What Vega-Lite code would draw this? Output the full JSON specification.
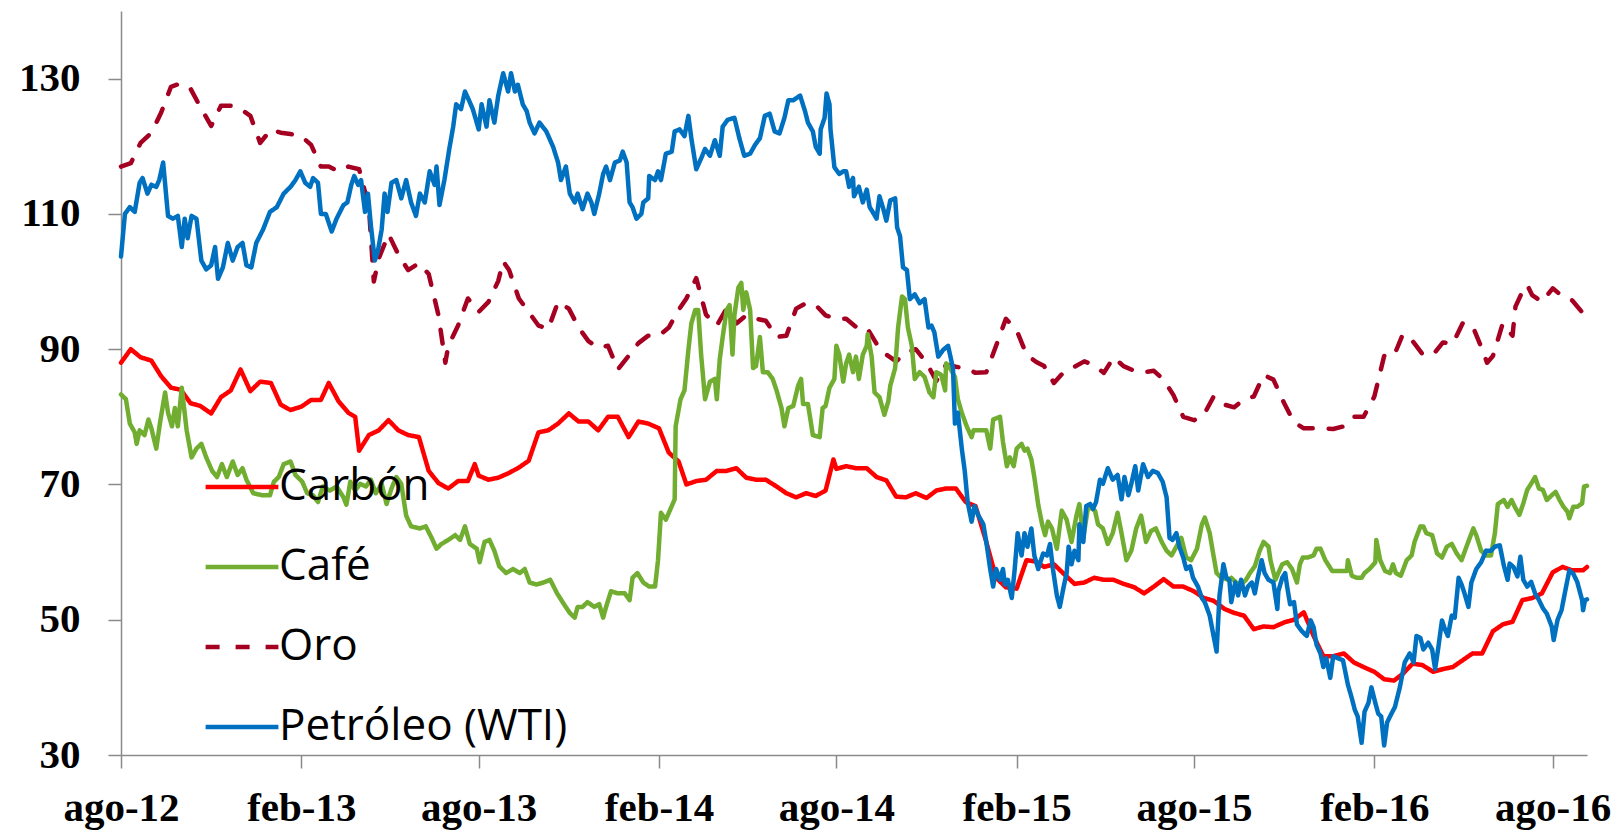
{
"$schema": "https://vega.github.io/schema/vega-lite/v6.json",
"width": 1466, "height": 744,
"autosize": {"type": "none"},
"padding": {"left": 121, "top": 11, "right": 32, "bottom": 79},
"background": "#ffffff",
"config": {
  "view": {"stroke": null},
  "legend": {"orient": "none", "legendX": 82, "legendY": 437, "symbolType": "stroke", "symbolSize": 5300, "symbolStrokeWidth": 4.5, "labelFont": "Open Sans", "labelFontSize": 44, "labelColor": "#000000", "labelOffset": -2, "rowPadding": 19, "padding": 0, "labelLimit": 0, "symbolOffset": 0}
},
"data": {"values": [
{"fecha":"2012-08-01","Carbón":88,"Oro":117},
{"fecha":"2012-08-11","Carbón":90,"Oro":117.5},
{"fecha":"2012-08-21","Carbón":88.8,"Oro":120.5},
{"fecha":"2012-09-01","Carbón":88.3,"Oro":122},
{"fecha":"2012-09-11","Carbón":86,"Oro":125},
{"fecha":"2012-09-21","Carbón":84.3,"Oro":128.8},
{"fecha":"2012-10-01","Carbón":84,"Oro":129.3},
{"fecha":"2012-10-11","Carbón":82,"Oro":128.5},
{"fecha":"2012-10-21","Carbón":81.6,"Oro":125.8},
{"fecha":"2012-11-01","Carbón":80.5,"Oro":123},
{"fecha":"2012-11-11","Carbón":82.9,"Oro":126},
{"fecha":"2012-11-21","Carbón":83.9,"Oro":126},
{"fecha":"2012-12-01","Carbón":87,"Oro":125.5},
{"fecha":"2012-12-11","Carbón":83.8,"Oro":124.5},
{"fecha":"2012-12-21","Carbón":85.2,"Oro":120.5},
{"fecha":"2013-01-01","Carbón":85,"Oro":122.5},
{"fecha":"2013-01-11","Carbón":81.8,"Oro":122},
{"fecha":"2013-01-21","Carbón":81,"Oro":121.8},
{"fecha":"2013-02-01","Carbón":81.5,"Oro":121.5},
{"fecha":"2013-02-11","Carbón":82.5,"Oro":120.2},
{"fecha":"2013-02-21","Carbón":82.5,"Oro":117},
{"fecha":"2013-03-01","Carbón":85,"Oro":117},
{"fecha":"2013-03-11","Carbón":82.3,"Oro":116.3},
{"fecha":"2013-03-21","Carbón":80.6,"Oro":117},
{"fecha":"2013-03-28","Carbón":80},
{"fecha":"2013-04-01","Carbón":75,"Oro":116.6},
{"fecha":"2013-04-11","Carbón":77.3,"Oro":111},
{"fecha":"2013-04-16","Oro":100},
{"fecha":"2013-04-21","Carbón":78,"Oro":103.4},
{"fecha":"2013-05-01","Carbón":79.5,"Oro":107},
{"fecha":"2013-05-11","Carbón":78,"Oro":104},
{"fecha":"2013-05-21","Carbón":77.3,"Oro":101.7},
{"fecha":"2013-06-01","Carbón":77,"Oro":102.7},
{"fecha":"2013-06-11","Carbón":72,"Oro":101.1},
{"fecha":"2013-06-21","Carbón":70.2,"Oro":95},
{"fecha":"2013-06-28","Oro":88},
{"fecha":"2013-07-01","Carbón":69.4,"Oro":90.5},
{"fecha":"2013-07-11","Carbón":70.5,"Oro":93.5},
{"fecha":"2013-07-21","Carbón":70.5,"Oro":97.5},
{"fecha":"2013-07-28","Carbón":73},
{"fecha":"2013-08-01","Carbón":71.3,"Oro":95.5},
{"fecha":"2013-08-11","Carbón":70.7,"Oro":97},
{"fecha":"2013-08-21","Carbón":71,"Oro":100.1},
{"fecha":"2013-08-26","Oro":103},
{"fecha":"2013-09-01","Carbón":71.7,"Oro":101.7},
{"fecha":"2013-09-11","Carbón":72.5,"Oro":97.5},
{"fecha":"2013-09-21","Carbón":73.5,"Oro":95.5},
{"fecha":"2013-10-01","Carbón":77.7,"Oro":93.5},
{"fecha":"2013-10-11","Carbón":78,"Oro":93},
{"fecha":"2013-10-21","Carbón":79,"Oro":97},
{"fecha":"2013-11-01","Carbón":80.5,"Oro":96},
{"fecha":"2013-11-11","Carbón":79.3,"Oro":93.2},
{"fecha":"2013-11-21","Carbón":79.3,"Oro":91.2},
{"fecha":"2013-12-01","Carbón":78,"Oro":90.2},
{"fecha":"2013-12-11","Carbón":80,"Oro":90.5},
{"fecha":"2013-12-21","Carbón":80,"Oro":87},
{"fecha":"2014-01-01","Carbón":77,"Oro":89},
{"fecha":"2014-01-11","Carbón":79.3,"Oro":90.9},
{"fecha":"2014-01-21","Carbón":79,"Oro":92},
{"fecha":"2014-02-01","Carbón":78.3,"Oro":92},
{"fecha":"2014-02-11","Carbón":74.7,"Oro":93.2},
{"fecha":"2014-02-21","Carbón":73.4,"Oro":95.8},
{"fecha":"2014-03-01","Carbón":70,"Oro":97.5},
{"fecha":"2014-03-11","Carbón":70.5,"Oro":100.5},
{"fecha":"2014-03-21","Carbón":70.7,"Oro":95.1},
{"fecha":"2014-04-01","Carbón":72,"Oro":93.5},
{"fecha":"2014-04-11","Carbón":72,"Oro":96},
{"fecha":"2014-04-21","Carbón":72.4,"Oro":93.8},
{"fecha":"2014-05-01","Carbón":71,"Oro":95},
{"fecha":"2014-05-11","Carbón":70.7,"Oro":94.5},
{"fecha":"2014-05-21","Carbón":70.7,"Oro":94.2},
{"fecha":"2014-06-01","Carbón":69.7,"Oro":91.8},
{"fecha":"2014-06-11","Carbón":68.7,"Oro":92},
{"fecha":"2014-06-21","Carbón":68.1,"Oro":96},
{"fecha":"2014-07-01","Carbón":68.7,"Oro":96.8},
{"fecha":"2014-07-11","Carbón":68.3,"Oro":96.5},
{"fecha":"2014-07-21","Carbón":69.1,"Oro":95},
{"fecha":"2014-07-29","Carbón":73.7},
{"fecha":"2014-08-01","Carbón":72.3,"Oro":94.5},
{"fecha":"2014-08-11","Carbón":72.7,"Oro":94.5},
{"fecha":"2014-08-21","Carbón":72.4,"Oro":93.3},
{"fecha":"2014-09-01","Carbón":72.4,"Oro":93.2},
{"fecha":"2014-09-11","Carbón":71.1,"Oro":90.8},
{"fecha":"2014-09-21","Carbón":70.6,"Oro":89.2},
{"fecha":"2014-10-01","Carbón":68.2,"Oro":88.2},
{"fecha":"2014-10-11","Carbón":68.1,"Oro":89.5},
{"fecha":"2014-10-21","Carbón":68.7,"Oro":90},
{"fecha":"2014-11-01","Carbón":68,"Oro":88},
{"fecha":"2014-11-11","Carbón":69.1,"Oro":85.3},
{"fecha":"2014-11-21","Carbón":69.4,"Oro":87.7},
{"fecha":"2014-12-01","Carbón":69.4,"Oro":87.4},
{"fecha":"2014-12-11","Carbón":67.4,"Oro":87.2},
{"fecha":"2014-12-21","Carbón":66.8,"Oro":86.5},
{"fecha":"2015-01-01","Carbón":61.5,"Oro":86.6},
{"fecha":"2015-01-11","Carbón":56.2,"Oro":90.5},
{"fecha":"2015-01-21","Carbón":54.8,"Oro":94.5},
{"fecha":"2015-02-01","Carbón":54.6,"Oro":92.8},
{"fecha":"2015-02-11","Carbón":58.8,"Oro":89.2},
{"fecha":"2015-02-21","Carbón":58.6,"Oro":88.1},
{"fecha":"2015-03-01","Carbón":57.8,"Oro":87.5},
{"fecha":"2015-03-11","Carbón":58.2,"Oro":85},
{"fecha":"2015-03-21","Carbón":56.8,"Oro":86.6},
{"fecha":"2015-04-01","Carbón":55.3,"Oro":87.4},
{"fecha":"2015-04-11","Carbón":55.5,"Oro":88.2},
{"fecha":"2015-04-21","Carbón":56.2,"Oro":87.6},
{"fecha":"2015-05-01","Carbón":55.9,"Oro":86.5},
{"fecha":"2015-05-11","Carbón":55.9,"Oro":88.8},
{"fecha":"2015-05-21","Carbón":55.3,"Oro":87.5},
{"fecha":"2015-06-01","Carbón":54.8,"Oro":86.8},
{"fecha":"2015-06-11","Carbón":53.9,"Oro":86.6},
{"fecha":"2015-06-21","Carbón":54.9,"Oro":86.8},
{"fecha":"2015-07-01","Carbón":56,"Oro":85.5},
{"fecha":"2015-07-11","Carbón":54.9,"Oro":83.2},
{"fecha":"2015-07-21","Carbón":54.9,"Oro":80},
{"fecha":"2015-08-01","Carbón":54.2,"Oro":79.5},
{"fecha":"2015-08-11","Carbón":53.2,"Oro":80.3},
{"fecha":"2015-08-21","Carbón":52.8,"Oro":83},
{"fecha":"2015-09-01","Carbón":51.6,"Oro":81.8},
{"fecha":"2015-09-11","Carbón":51,"Oro":81.4},
{"fecha":"2015-09-21","Carbón":50.6,"Oro":82.6},
{"fecha":"2015-10-01","Carbón":48.6,"Oro":83},
{"fecha":"2015-10-11","Carbón":49,"Oro":86.2},
{"fecha":"2015-10-21","Carbón":48.9,"Oro":85.5},
{"fecha":"2015-11-01","Carbón":49.6,"Oro":82},
{"fecha":"2015-11-11","Carbón":50,"Oro":79.2},
{"fecha":"2015-11-21","Carbón":51.1,"Oro":78.3},
{"fecha":"2015-12-01","Carbón":47.6,"Oro":78.3},
{"fecha":"2015-12-11","Carbón":44.6,"Oro":78.3},
{"fecha":"2015-12-21","Carbón":44.6,"Oro":78.2},
{"fecha":"2016-01-01","Carbón":45,"Oro":78.6},
{"fecha":"2016-01-11","Carbón":43.7,"Oro":80},
{"fecha":"2016-01-21","Carbón":43,"Oro":80},
{"fecha":"2016-02-01","Carbón":42.3,"Oro":83},
{"fecha":"2016-02-11","Carbón":41.2,"Oro":89},
{"fecha":"2016-02-21","Carbón":41,"Oro":89},
{"fecha":"2016-03-01","Carbón":42,"Oro":92.2},
{"fecha":"2016-03-11","Carbón":43.5,"Oro":91.2},
{"fecha":"2016-03-21","Carbón":43.3,"Oro":89.3},
{"fecha":"2016-04-01","Carbón":42.3,"Oro":89.2},
{"fecha":"2016-04-11","Carbón":42.7,"Oro":91},
{"fecha":"2016-04-21","Carbón":43,"Oro":90.8},
{"fecha":"2016-05-01","Carbón":44,"Oro":93.8},
{"fecha":"2016-05-11","Carbón":45,"Oro":93.5},
{"fecha":"2016-05-21","Carbón":45,"Oro":90},
{"fecha":"2016-05-26","Oro":88},
{"fecha":"2016-06-01","Carbón":48.3,"Oro":89},
{"fecha":"2016-06-11","Carbón":49.3,"Oro":93.8},
{"fecha":"2016-06-21","Carbón":49.7,"Oro":92},
{"fecha":"2016-06-24","Oro":96.3},
{"fecha":"2016-07-01","Carbón":52.9,"Oro":98.5},
{"fecha":"2016-07-06","Oro":99.5},
{"fecha":"2016-07-11","Carbón":53.2,"Oro":98},
{"fecha":"2016-07-21","Carbón":53.9,"Oro":97},
{"fecha":"2016-08-01","Carbón":57,"Oro":99},
{"fecha":"2016-08-11","Carbón":57.8,"Oro":97.8},
{"fecha":"2016-08-21","Carbón":57.3,"Oro":97.2},
{"fecha":"2016-09-01","Carbón":57.3,"Oro":95.3},
{"fecha":"2016-09-05","Carbón":57.8,"Oro":95.5},
{"fecha":"2012-08-01","Café":83.3},{"fecha":"2012-08-06","Café":82.6},{"fecha":"2012-08-10","Café":79},{"fecha":"2012-08-15","Café":77.7},{"fecha":"2012-08-17","Café":76},{"fecha":"2012-08-20","Café":78},{"fecha":"2012-08-25","Café":77.3},{"fecha":"2012-08-29","Café":79.6},
{"fecha":"2012-09-01","Café":78.3},{"fecha":"2012-09-06","Café":75.3},{"fecha":"2012-09-10","Café":79.3},{"fecha":"2012-09-15","Café":83.6},{"fecha":"2012-09-18","Café":80.6},{"fecha":"2012-09-22","Café":78.6},{"fecha":"2012-09-25","Café":81.3},{"fecha":"2012-09-28","Café":78.6},
{"fecha":"2012-10-02","Café":84.3},{"fecha":"2012-10-07","Café":78},{"fecha":"2012-10-12","Café":74},{"fecha":"2012-10-17","Café":75.3},{"fecha":"2012-10-22","Café":76},{"fecha":"2012-10-27","Café":74},
{"fecha":"2012-11-02","Café":72},{"fecha":"2012-11-07","Café":71.1},{"fecha":"2012-11-12","Café":73},{"fecha":"2012-11-17","Café":71.1},{"fecha":"2012-11-23","Café":73.4},{"fecha":"2012-11-28","Café":71.4},
{"fecha":"2012-12-03","Café":72.4},{"fecha":"2012-12-07","Café":70.7},{"fecha":"2012-12-14","Café":68.7},{"fecha":"2012-12-23","Café":68.4},{"fecha":"2012-12-31","Café":68.4},
{"fecha":"2013-01-04","Café":70.4},{"fecha":"2013-01-09","Café":71.1},{"fecha":"2013-01-14","Café":73},{"fecha":"2013-01-21","Café":73.4},{"fecha":"2013-01-26","Café":71.4},
{"fecha":"2013-02-02","Café":70.4},{"fecha":"2013-02-07","Café":68.7},{"fecha":"2013-02-13","Café":68.4},{"fecha":"2013-02-18","Café":67.4},{"fecha":"2013-02-23","Café":69.7},
{"fecha":"2013-03-02","Café":69.1},{"fecha":"2013-03-09","Café":69.7},{"fecha":"2013-03-16","Café":68.1},{"fecha":"2013-03-19","Café":67},{"fecha":"2013-03-23","Café":70.4},{"fecha":"2013-03-28","Café":69.1},
{"fecha":"2013-04-02","Café":70.1},{"fecha":"2013-04-08","Café":69.7},{"fecha":"2013-04-13","Café":70.7},{"fecha":"2013-04-18","Café":68.7},{"fecha":"2013-04-24","Café":70.1},{"fecha":"2013-04-29","Café":67.1},
{"fecha":"2013-05-04","Café":69.4},{"fecha":"2013-05-09","Café":71.1},{"fecha":"2013-05-14","Café":70.1},{"fecha":"2013-05-19","Café":65.4},{"fecha":"2013-05-24","Café":63.8},
{"fecha":"2013-06-02","Café":63.5},{"fecha":"2013-06-08","Café":63.8},{"fecha":"2013-06-14","Café":62.1},{"fecha":"2013-06-19","Café":60.5},{"fecha":"2013-06-24","Café":61.2},
{"fecha":"2013-07-01","Café":61.8},{"fecha":"2013-07-08","Café":62.5},{"fecha":"2013-07-13","Café":61.8},{"fecha":"2013-07-18","Café":63.8},{"fecha":"2013-07-23","Café":61.2},{"fecha":"2013-07-30","Café":60.5},
{"fecha":"2013-08-02","Café":58.5},{"fecha":"2013-08-07","Café":61.5},{"fecha":"2013-08-12","Café":61.8},{"fecha":"2013-08-17","Café":60.2},{"fecha":"2013-08-22","Café":57.9},{"fecha":"2013-08-29","Café":56.9},
{"fecha":"2013-09-05","Café":57.5},{"fecha":"2013-09-12","Café":56.9},{"fecha":"2013-09-17","Café":57.5},{"fecha":"2013-09-22","Café":55.5},{"fecha":"2013-09-29","Café":55.2},
{"fecha":"2013-10-06","Café":55.5},{"fecha":"2013-10-13","Café":55.9},{"fecha":"2013-10-20","Café":53.9},{"fecha":"2013-10-27","Café":52.3},
{"fecha":"2013-11-02","Café":51},{"fecha":"2013-11-07","Café":50.3},{"fecha":"2013-11-10","Café":51.9},{"fecha":"2013-11-15","Café":51.9},{"fecha":"2013-11-20","Café":52.6},{"fecha":"2013-11-27","Café":51.9},
{"fecha":"2013-12-02","Café":52.3},{"fecha":"2013-12-06","Café":50.3},{"fecha":"2013-12-09","Café":51.9},{"fecha":"2013-12-14","Café":54.2},{"fecha":"2013-12-21","Café":53.9},{"fecha":"2013-12-28","Café":53.9},
{"fecha":"2014-01-02","Café":52.9},{"fecha":"2014-01-05","Café":56.2},{"fecha":"2014-01-10","Café":56.9},{"fecha":"2014-01-16","Café":55.5},{"fecha":"2014-01-22","Café":54.9},{"fecha":"2014-01-28","Café":54.9},{"fecha":"2014-01-31","Café":58.8},
{"fecha":"2014-02-03","Café":65.8},{"fecha":"2014-02-08","Café":64.8},{"fecha":"2014-02-14","Café":66.8},{"fecha":"2014-02-17","Café":67.8},{"fecha":"2014-02-18","Café":78.6},{"fecha":"2014-02-23","Café":82.6},{"fecha":"2014-02-27","Café":83.9},
{"fecha":"2014-03-03","Café":89.9},{"fecha":"2014-03-06","Café":93.8},{"fecha":"2014-03-10","Café":95.8},{"fecha":"2014-03-13","Café":95.8},{"fecha":"2014-03-16","Café":89.2},{"fecha":"2014-03-20","Café":82.6},{"fecha":"2014-03-25","Café":85.2},{"fecha":"2014-03-30","Café":85.6},
{"fecha":"2014-04-01","Café":82.6},{"fecha":"2014-04-04","Café":88.5},{"fecha":"2014-04-07","Café":91.8},{"fecha":"2014-04-11","Café":95.8},{"fecha":"2014-04-14","Café":96.5},{"fecha":"2014-04-17","Café":89.2},{"fecha":"2014-04-19","Café":95.1},{"fecha":"2014-04-23","Café":99.1},{"fecha":"2014-04-26","Café":99.8},{"fecha":"2014-04-28","Café":95.8},
{"fecha":"2014-05-01","Café":98.4},{"fecha":"2014-05-05","Café":95.8},{"fecha":"2014-05-08","Café":87.2},{"fecha":"2014-05-11","Café":87.5},{"fecha":"2014-05-15","Café":91.8},{"fecha":"2014-05-18","Café":86.6},{"fecha":"2014-05-23","Café":86.6},{"fecha":"2014-05-28","Café":85.6},
{"fecha":"2014-06-01","Café":83.9},{"fecha":"2014-06-06","Café":81.3},{"fecha":"2014-06-09","Café":78.6},{"fecha":"2014-06-13","Café":81.3},{"fecha":"2014-06-18","Café":81.6},{"fecha":"2014-06-23","Café":84.6},{"fecha":"2014-06-26","Café":85.6},{"fecha":"2014-06-28","Café":81.9},
{"fecha":"2014-07-03","Café":81.9},{"fecha":"2014-07-08","Café":77.3},{"fecha":"2014-07-15","Café":77},{"fecha":"2014-07-18","Café":81.3},{"fecha":"2014-07-21","Café":81.6},{"fecha":"2014-07-25","Café":84.3},{"fecha":"2014-07-30","Café":85.6},
{"fecha":"2014-08-01","Café":90.5},{"fecha":"2014-08-04","Café":89.2},{"fecha":"2014-08-08","Café":85.2},{"fecha":"2014-08-11","Café":87.9},{"fecha":"2014-08-14","Café":89.2},{"fecha":"2014-08-18","Café":86.6},{"fecha":"2014-08-21","Café":88.9},{"fecha":"2014-08-24","Café":85.6},{"fecha":"2014-08-28","Café":89.2},
{"fecha":"2014-09-01","Café":90.5},{"fecha":"2014-09-02","Café":92.2},{"fecha":"2014-09-06","Café":88.9},{"fecha":"2014-09-09","Café":83.6},{"fecha":"2014-09-14","Café":82.9},{"fecha":"2014-09-19","Café":80.3},{"fecha":"2014-09-23","Café":82.3},{"fecha":"2014-09-25","Café":84.6},{"fecha":"2014-09-30","Café":87.2},
{"fecha":"2014-10-03","Café":93.2},{"fecha":"2014-10-07","Café":97.8},{"fecha":"2014-10-10","Café":97.4},{"fecha":"2014-10-13","Café":93.2},{"fecha":"2014-10-17","Café":90.5},{"fecha":"2014-10-20","Café":85.6},{"fecha":"2014-10-25","Café":86.6},{"fecha":"2014-10-30","Café":85.9},
{"fecha":"2014-11-04","Café":83.6},{"fecha":"2014-11-08","Café":82.9},{"fecha":"2014-11-11","Café":86.6},{"fecha":"2014-11-16","Café":86.2},{"fecha":"2014-11-20","Café":83.9},{"fecha":"2014-11-21","Café":87.9},{"fecha":"2014-11-25","Café":87.2},{"fecha":"2014-11-30","Café":85.9},
{"fecha":"2014-12-03","Café":82.6},{"fecha":"2014-12-07","Café":80.6},{"fecha":"2014-12-12","Café":78.6},{"fecha":"2014-12-17","Café":77},{"fecha":"2014-12-19","Café":78},{"fecha":"2014-12-26","Café":78},
{"fecha":"2015-01-01","Café":78},{"fecha":"2015-01-05","Café":75.3},{"fecha":"2015-01-08","Café":79.6},{"fecha":"2015-01-15","Café":80},{"fecha":"2015-01-18","Café":76.3},{"fecha":"2015-01-22","Café":72.7},{"fecha":"2015-01-25","Café":74},{"fecha":"2015-01-29","Café":72.7},
{"fecha":"2015-02-01","Café":75.3},{"fecha":"2015-02-06","Café":76},{"fecha":"2015-02-09","Café":75},{"fecha":"2015-02-12","Café":75.3},{"fecha":"2015-02-16","Café":73.7},{"fecha":"2015-02-19","Café":71.1},{"fecha":"2015-02-23","Café":67},{"fecha":"2015-02-27","Café":64.1},
{"fecha":"2015-03-02","Café":62.5},{"fecha":"2015-03-05","Café":64.5},{"fecha":"2015-03-09","Café":63.5},{"fecha":"2015-03-14","Café":60.5},{"fecha":"2015-03-19","Café":66.1},{"fecha":"2015-03-24","Café":64.8},{"fecha":"2015-03-29","Café":61.5},
{"fecha":"2015-04-03","Café":65.4},{"fecha":"2015-04-06","Café":67.1},{"fecha":"2015-04-10","Café":62.1},{"fecha":"2015-04-15","Café":66.8},{"fecha":"2015-04-22","Café":66.1},{"fecha":"2015-04-25","Café":64.1},{"fecha":"2015-04-30","Café":63.5},
{"fecha":"2015-05-05","Café":61.2},{"fecha":"2015-05-10","Café":62.8},{"fecha":"2015-05-15","Café":65.8},{"fecha":"2015-05-19","Café":62.8},{"fecha":"2015-05-24","Café":58.8},{"fecha":"2015-05-29","Café":60.2},
{"fecha":"2015-06-03","Café":63.5},{"fecha":"2015-06-08","Café":65.4},{"fecha":"2015-06-13","Café":61.5},{"fecha":"2015-06-18","Café":63.1},{"fecha":"2015-06-23","Café":63.5},{"fecha":"2015-06-29","Café":61.5},
{"fecha":"2015-07-04","Café":60.2},{"fecha":"2015-07-09","Café":59.5},{"fecha":"2015-07-14","Café":60.8},{"fecha":"2015-07-19","Café":62.1},{"fecha":"2015-07-24","Café":59.2},{"fecha":"2015-07-29","Café":58.8},
{"fecha":"2015-08-04","Café":60.5},{"fecha":"2015-08-09","Café":64.1},{"fecha":"2015-08-12","Café":65.1},{"fecha":"2015-08-17","Café":62.8},{"fecha":"2015-08-20","Café":60.2},{"fecha":"2015-08-24","Café":56.9},{"fecha":"2015-08-29","Café":56.2},
{"fecha":"2015-09-05","Café":55.9},{"fecha":"2015-09-08","Café":56.2},{"fecha":"2015-09-13","Café":55.5},{"fecha":"2015-09-18","Café":55.2},{"fecha":"2015-09-23","Café":55.9},{"fecha":"2015-09-27","Café":56.9},
{"fecha":"2015-10-02","Café":57.9},{"fecha":"2015-10-07","Café":60.2},{"fecha":"2015-10-11","Café":61.5},{"fecha":"2015-10-16","Café":60.8},{"fecha":"2015-10-18","Café":58.8},{"fecha":"2015-10-23","Café":55.9},{"fecha":"2015-10-26","Café":56.9},{"fecha":"2015-10-30","Café":58.2},
{"fecha":"2015-11-04","Café":58.5},{"fecha":"2015-11-09","Café":57.5},{"fecha":"2015-11-14","Café":55.5},{"fecha":"2015-11-17","Café":58.2},{"fecha":"2015-11-20","Café":59.2},{"fecha":"2015-11-25","Café":59.2},
{"fecha":"2015-12-01","Café":59.5},{"fecha":"2015-12-04","Café":60.5},{"fecha":"2015-12-08","Café":60.5},{"fecha":"2015-12-13","Café":58.8},{"fecha":"2015-12-20","Café":57.2},{"fecha":"2015-12-28","Café":57.2},
{"fecha":"2016-01-04","Café":57.2},{"fecha":"2016-01-05","Café":58.8},{"fecha":"2016-01-09","Café":56.5},{"fecha":"2016-01-14","Café":56.2},{"fecha":"2016-01-19","Café":56.2},{"fecha":"2016-01-22","Café":56.9},{"fecha":"2016-01-27","Café":57.5},
{"fecha":"2016-02-02","Café":58.5},{"fecha":"2016-02-03","Café":61.8},{"fecha":"2016-02-07","Café":58.8},{"fecha":"2016-02-12","Café":57.2},{"fecha":"2016-02-17","Café":56.9},{"fecha":"2016-02-20","Café":58.2},{"fecha":"2016-02-23","Café":56.9},{"fecha":"2016-02-28","Café":56.5},
{"fecha":"2016-03-05","Café":58.8},{"fecha":"2016-03-10","Café":59.5},{"fecha":"2016-03-13","Café":61.5},{"fecha":"2016-03-19","Café":63.8},{"fecha":"2016-03-22","Café":63.8},{"fecha":"2016-03-25","Café":62.8},{"fecha":"2016-03-31","Café":62.5},
{"fecha":"2016-04-05","Café":59.8},{"fecha":"2016-04-10","Café":59.2},{"fecha":"2016-04-15","Café":60.8},{"fecha":"2016-04-20","Café":61.2},{"fecha":"2016-04-25","Café":59.8},{"fecha":"2016-04-30","Café":58.8},
{"fecha":"2016-05-05","Café":60.8},{"fecha":"2016-05-12","Café":63.5},{"fecha":"2016-05-15","Café":62.5},{"fecha":"2016-05-20","Café":60.2},{"fecha":"2016-05-25","Café":59.5},{"fecha":"2016-05-30","Café":59.5},
{"fecha":"2016-06-03","Café":62.8},{"fecha":"2016-06-06","Café":67.1},{"fecha":"2016-06-12","Café":67.7},{"fecha":"2016-06-16","Café":66.7},{"fecha":"2016-06-20","Café":67.7},{"fecha":"2016-06-24","Café":66.5},{"fecha":"2016-06-28","Café":65.5},
{"fecha":"2016-07-02","Café":67.2},{"fecha":"2016-07-06","Café":69.2},{"fecha":"2016-07-10","Café":70.1},{"fecha":"2016-07-14","Café":71.1},{"fecha":"2016-07-18","Café":69.4},{"fecha":"2016-07-22","Café":69.2},{"fecha":"2016-07-26","Café":67.7},{"fecha":"2016-07-31","Café":68.4},
{"fecha":"2016-08-04","Café":68.9},{"fecha":"2016-08-08","Café":67.7},{"fecha":"2016-08-12","Café":66.7},{"fecha":"2016-08-16","Café":66},{"fecha":"2016-08-18","Café":65},{"fecha":"2016-08-22","Café":66.7},{"fecha":"2016-08-26","Café":66.7},{"fecha":"2016-08-31","Café":67.2},
{"fecha":"2016-09-02","Café":69.7},{"fecha":"2016-09-05","Café":69.8},
{"fecha":"2012-08-01","Petróleo (WTI)":103.7},{"fecha":"2012-08-05","Petróleo (WTI)":110},{"fecha":"2012-08-10","Petróleo (WTI)":111},{"fecha":"2012-08-15","Petróleo (WTI)":110.3},{"fecha":"2012-08-20","Petróleo (WTI)":114.6},{"fecha":"2012-08-23","Petróleo (WTI)":115.3},{"fecha":"2012-08-28","Petróleo (WTI)":113},
{"fecha":"2012-09-01","Petróleo (WTI)":114.3},{"fecha":"2012-09-06","Petróleo (WTI)":114},{"fecha":"2012-09-09","Petróleo (WTI)":115},{"fecha":"2012-09-13","Petróleo (WTI)":117.6},{"fecha":"2012-09-18","Petróleo (WTI)":109.7},{"fecha":"2012-09-23","Petróleo (WTI)":109.3},{"fecha":"2012-09-28","Petróleo (WTI)":109.7},
{"fecha":"2012-10-02","Petróleo (WTI)":105.1},{"fecha":"2012-10-05","Petróleo (WTI)":109.3},{"fecha":"2012-10-08","Petróleo (WTI)":106.4},{"fecha":"2012-10-12","Petróleo (WTI)":109.7},{"fecha":"2012-10-17","Petróleo (WTI)":109.3},{"fecha":"2012-10-22","Petróleo (WTI)":103.1},{"fecha":"2012-10-27","Petróleo (WTI)":101.8},
{"fecha":"2012-11-01","Petróleo (WTI)":102.4},{"fecha":"2012-11-05","Petróleo (WTI)":105.1},{"fecha":"2012-11-08","Petróleo (WTI)":100.4},{"fecha":"2012-11-13","Petróleo (WTI)":102.1},{"fecha":"2012-11-18","Petróleo (WTI)":105.7},{"fecha":"2012-11-23","Petróleo (WTI)":103.1},{"fecha":"2012-11-28","Petróleo (WTI)":105.1},
{"fecha":"2012-12-03","Petróleo (WTI)":105.7},{"fecha":"2012-12-07","Petróleo (WTI)":102.4},{"fecha":"2012-12-12","Petróleo (WTI)":102.1},{"fecha":"2012-12-17","Petróleo (WTI)":105.7},{"fecha":"2012-12-24","Petróleo (WTI)":107.7},{"fecha":"2012-12-31","Petróleo (WTI)":110.3},
{"fecha":"2013-01-07","Petróleo (WTI)":111},{"fecha":"2013-01-14","Petróleo (WTI)":113},{"fecha":"2013-01-21","Petróleo (WTI)":114},{"fecha":"2013-01-26","Petróleo (WTI)":115},{"fecha":"2013-01-31","Petróleo (WTI)":116.3},
{"fecha":"2013-02-05","Petróleo (WTI)":114.6},{"fecha":"2013-02-10","Petróleo (WTI)":114},{"fecha":"2013-02-13","Petróleo (WTI)":115.3},{"fecha":"2013-02-18","Petróleo (WTI)":114.6},{"fecha":"2013-02-21","Petróleo (WTI)":110},{"fecha":"2013-02-26","Petróleo (WTI)":110},
{"fecha":"2013-03-04","Petróleo (WTI)":107.4},{"fecha":"2013-03-09","Petróleo (WTI)":109.3},{"fecha":"2013-03-16","Petróleo (WTI)":111.3},{"fecha":"2013-03-20","Petróleo (WTI)":111.7},{"fecha":"2013-03-24","Petróleo (WTI)":114.3},{"fecha":"2013-03-27","Petróleo (WTI)":115.6},{"fecha":"2013-03-31","Petróleo (WTI)":114.3},
{"fecha":"2013-04-03","Petróleo (WTI)":115},{"fecha":"2013-04-07","Petróleo (WTI)":110.3},{"fecha":"2013-04-10","Petróleo (WTI)":113},{"fecha":"2013-04-13","Petróleo (WTI)":108.3},{"fecha":"2013-04-17","Petróleo (WTI)":103.1},{"fecha":"2013-04-20","Petróleo (WTI)":104.4},{"fecha":"2013-04-24","Petróleo (WTI)":107.7},{"fecha":"2013-04-27","Petróleo (WTI)":113},{"fecha":"2013-04-30","Petróleo (WTI)":110.3},
{"fecha":"2013-05-04","Petróleo (WTI)":114.6},{"fecha":"2013-05-09","Petróleo (WTI)":115},{"fecha":"2013-05-14","Petróleo (WTI)":112.3},{"fecha":"2013-05-19","Petróleo (WTI)":115},{"fecha":"2013-05-24","Petróleo (WTI)":111.7},{"fecha":"2013-05-29","Petróleo (WTI)":109.7},
{"fecha":"2013-06-02","Petróleo (WTI)":113},{"fecha":"2013-06-07","Petróleo (WTI)":111.7},{"fecha":"2013-06-12","Petróleo (WTI)":116.3},{"fecha":"2013-06-17","Petróleo (WTI)":114.3},{"fecha":"2013-06-19","Petróleo (WTI)":117},{"fecha":"2013-06-22","Petróleo (WTI)":111.3},{"fecha":"2013-06-27","Petróleo (WTI)":115},
{"fecha":"2013-07-02","Petróleo (WTI)":119.6},{"fecha":"2013-07-06","Petróleo (WTI)":122.9},{"fecha":"2013-07-09","Petróleo (WTI)":126.2},{"fecha":"2013-07-14","Petróleo (WTI)":125.5},{"fecha":"2013-07-18","Petróleo (WTI)":128.1},{"fecha":"2013-07-23","Petróleo (WTI)":126.5},{"fecha":"2013-07-26","Petróleo (WTI)":125.5},
{"fecha":"2013-08-01","Petróleo (WTI)":122.5},{"fecha":"2013-08-04","Petróleo (WTI)":126.2},{"fecha":"2013-08-09","Petróleo (WTI)":122.9},{"fecha":"2013-08-12","Petróleo (WTI)":126.8},{"fecha":"2013-08-17","Petróleo (WTI)":123.5},{"fecha":"2013-08-21","Petróleo (WTI)":127.5},{"fecha":"2013-08-26","Petróleo (WTI)":130.8},{"fecha":"2013-08-31","Petróleo (WTI)":128.1},
{"fecha":"2013-09-03","Petróleo (WTI)":130.8},{"fecha":"2013-09-07","Petróleo (WTI)":128.1},{"fecha":"2013-09-10","Petróleo (WTI)":129.1},{"fecha":"2013-09-15","Petróleo (WTI)":126.2},{"fecha":"2013-09-19","Petróleo (WTI)":125.2},{"fecha":"2013-09-22","Petróleo (WTI)":123.5},{"fecha":"2013-09-27","Petróleo (WTI)":121.9},
{"fecha":"2013-10-02","Petróleo (WTI)":123.5},{"fecha":"2013-10-09","Petróleo (WTI)":122.2},{"fecha":"2013-10-16","Petróleo (WTI)":119.9},{"fecha":"2013-10-21","Petróleo (WTI)":117.6},{"fecha":"2013-10-24","Petróleo (WTI)":115},{"fecha":"2013-10-29","Petróleo (WTI)":117},
{"fecha":"2013-11-02","Petróleo (WTI)":113},{"fecha":"2013-11-07","Petróleo (WTI)":111.7},{"fecha":"2013-11-10","Petróleo (WTI)":113},{"fecha":"2013-11-15","Petróleo (WTI)":110.7},{"fecha":"2013-11-20","Petróleo (WTI)":113},{"fecha":"2013-11-24","Petróleo (WTI)":111.7},{"fecha":"2013-11-27","Petróleo (WTI)":110},
{"fecha":"2013-12-02","Petróleo (WTI)":113},{"fecha":"2013-12-06","Petróleo (WTI)":115.9},{"fecha":"2013-12-09","Petróleo (WTI)":117},{"fecha":"2013-12-13","Petróleo (WTI)":115},{"fecha":"2013-12-18","Petróleo (WTI)":117.6},{"fecha":"2013-12-23","Petróleo (WTI)":117.9},{"fecha":"2013-12-26","Petróleo (WTI)":119.2},{"fecha":"2013-12-30","Petróleo (WTI)":117.6},
{"fecha":"2014-01-02","Petróleo (WTI)":111.7},{"fecha":"2014-01-05","Petróleo (WTI)":111},{"fecha":"2014-01-09","Petróleo (WTI)":109.3},{"fecha":"2014-01-14","Petróleo (WTI)":110},{"fecha":"2014-01-16","Petróleo (WTI)":111.7},{"fecha":"2014-01-21","Petróleo (WTI)":112.3},{"fecha":"2014-01-22","Petróleo (WTI)":115.6},{"fecha":"2014-01-28","Petróleo (WTI)":115},{"fecha":"2014-01-31","Petróleo (WTI)":116.3},
{"fecha":"2014-02-03","Petróleo (WTI)":115},{"fecha":"2014-02-08","Petróleo (WTI)":118.9},{"fecha":"2014-02-14","Petróleo (WTI)":119.2},{"fecha":"2014-02-17","Petróleo (WTI)":122.2},{"fecha":"2014-02-22","Petróleo (WTI)":122.5},{"fecha":"2014-02-27","Petróleo (WTI)":121.5},
{"fecha":"2014-03-03","Petróleo (WTI)":124.5},{"fecha":"2014-03-06","Petróleo (WTI)":121.2},{"fecha":"2014-03-11","Petróleo (WTI)":116.6},{"fecha":"2014-03-16","Petróleo (WTI)":118.2},{"fecha":"2014-03-20","Petróleo (WTI)":119.6},{"fecha":"2014-03-25","Petróleo (WTI)":118.6},{"fecha":"2014-03-30","Petróleo (WTI)":120.9},
{"fecha":"2014-04-04","Petróleo (WTI)":118.6},{"fecha":"2014-04-07","Petróleo (WTI)":122.9},{"fecha":"2014-04-12","Petróleo (WTI)":123.9},{"fecha":"2014-04-19","Petróleo (WTI)":124.2},{"fecha":"2014-04-24","Petróleo (WTI)":121.2},{"fecha":"2014-04-29","Petróleo (WTI)":118.6},
{"fecha":"2014-05-05","Petróleo (WTI)":118.9},{"fecha":"2014-05-10","Petróleo (WTI)":120.2},{"fecha":"2014-05-15","Petróleo (WTI)":121.2},{"fecha":"2014-05-20","Petróleo (WTI)":124.5},{"fecha":"2014-05-25","Petróleo (WTI)":124.8},{"fecha":"2014-05-30","Petróleo (WTI)":122.2},
{"fecha":"2014-06-04","Petróleo (WTI)":121.9},{"fecha":"2014-06-09","Petróleo (WTI)":124.2},{"fecha":"2014-06-13","Petróleo (WTI)":126.8},{"fecha":"2014-06-18","Petróleo (WTI)":126.8},{"fecha":"2014-06-25","Petróleo (WTI)":127.5},{"fecha":"2014-06-30","Petróleo (WTI)":125.2},
{"fecha":"2014-07-03","Petróleo (WTI)":123.5},{"fecha":"2014-07-08","Petróleo (WTI)":122.2},{"fecha":"2014-07-11","Petróleo (WTI)":119.9},{"fecha":"2014-07-15","Petróleo (WTI)":118.9},{"fecha":"2014-07-16","Petróleo (WTI)":122.5},{"fecha":"2014-07-20","Petróleo (WTI)":124.2},{"fecha":"2014-07-22","Petróleo (WTI)":127.8},{"fecha":"2014-07-25","Petróleo (WTI)":126.2},{"fecha":"2014-07-26","Petróleo (WTI)":122.5},{"fecha":"2014-07-30","Petróleo (WTI)":116.9},
{"fecha":"2014-08-04","Petróleo (WTI)":115.9},{"fecha":"2014-08-08","Petróleo (WTI)":116.3},{"fecha":"2014-08-11","Petróleo (WTI)":116.3},{"fecha":"2014-08-14","Petróleo (WTI)":114},{"fecha":"2014-08-18","Petróleo (WTI)":115.3},{"fecha":"2014-08-19","Petróleo (WTI)":112.6},{"fecha":"2014-08-24","Petróleo (WTI)":114},{"fecha":"2014-08-28","Petróleo (WTI)":111.7},
{"fecha":"2014-09-01","Petróleo (WTI)":113.6},{"fecha":"2014-09-04","Petróleo (WTI)":111},{"fecha":"2014-09-07","Petróleo (WTI)":110.3},{"fecha":"2014-09-11","Petróleo (WTI)":109.3},{"fecha":"2014-09-14","Petróleo (WTI)":112.6},{"fecha":"2014-09-18","Petróleo (WTI)":110.7},{"fecha":"2014-09-21","Petróleo (WTI)":109},{"fecha":"2014-09-25","Petróleo (WTI)":112},{"fecha":"2014-09-30","Petróleo (WTI)":112.3},
{"fecha":"2014-10-02","Petróleo (WTI)":108},{"fecha":"2014-10-05","Petróleo (WTI)":106.7},{"fecha":"2014-10-08","Petróleo (WTI)":102.1},{"fecha":"2014-10-12","Petróleo (WTI)":101.7},{"fecha":"2014-10-15","Petróleo (WTI)":97.4},{"fecha":"2014-10-20","Petróleo (WTI)":98.1},{"fecha":"2014-10-25","Petróleo (WTI)":96.8},{"fecha":"2014-10-30","Petróleo (WTI)":97.4},
{"fecha":"2014-11-03","Petróleo (WTI)":93.2},{"fecha":"2014-11-06","Petróleo (WTI)":93.5},{"fecha":"2014-11-09","Petróleo (WTI)":92.5},{"fecha":"2014-11-13","Petróleo (WTI)":88.9},{"fecha":"2014-11-18","Petróleo (WTI)":89.9},{"fecha":"2014-11-23","Petróleo (WTI)":90.5},{"fecha":"2014-11-28","Petróleo (WTI)":87.2},{"fecha":"2014-11-30","Petróleo (WTI)":79},
{"fecha":"2014-12-03","Petróleo (WTI)":80.6},{"fecha":"2014-12-07","Petróleo (WTI)":75.3},{"fecha":"2014-12-10","Petróleo (WTI)":72},{"fecha":"2014-12-13","Petróleo (WTI)":67.4},{"fecha":"2014-12-17","Petróleo (WTI)":64.5},{"fecha":"2014-12-20","Petróleo (WTI)":66.8},{"fecha":"2014-12-24","Petróleo (WTI)":65.4},{"fecha":"2014-12-29","Petróleo (WTI)":64.1},
{"fecha":"2015-01-01","Petróleo (WTI)":61.5},{"fecha":"2015-01-05","Petróleo (WTI)":57.5},{"fecha":"2015-01-08","Petróleo (WTI)":54.9},{"fecha":"2015-01-11","Petróleo (WTI)":57.5},{"fecha":"2015-01-15","Petróleo (WTI)":55.9},{"fecha":"2015-01-18","Petróleo (WTI)":57.5},{"fecha":"2015-01-20","Petróleo (WTI)":55.2},{"fecha":"2015-01-23","Petróleo (WTI)":55.9},{"fecha":"2015-01-27","Petróleo (WTI)":53.2},{"fecha":"2015-01-30","Petróleo (WTI)":57.5},
{"fecha":"2015-02-02","Petróleo (WTI)":62.8},{"fecha":"2015-02-06","Petróleo (WTI)":59.5},{"fecha":"2015-02-09","Petróleo (WTI)":62.8},{"fecha":"2015-02-12","Petróleo (WTI)":60.8},{"fecha":"2015-02-16","Petróleo (WTI)":63.5},{"fecha":"2015-02-19","Petróleo (WTI)":59.5},{"fecha":"2015-02-23","Petróleo (WTI)":57.5},{"fecha":"2015-02-28","Petróleo (WTI)":59.8},
{"fecha":"2015-03-04","Petróleo (WTI)":59.5},{"fecha":"2015-03-07","Petróleo (WTI)":61.2},{"fecha":"2015-03-10","Petróleo (WTI)":57.5},{"fecha":"2015-03-14","Petróleo (WTI)":53.6},{"fecha":"2015-03-17","Petróleo (WTI)":51.9},{"fecha":"2015-03-21","Petróleo (WTI)":54.9},{"fecha":"2015-03-24","Petróleo (WTI)":56.9},{"fecha":"2015-03-26","Petróleo (WTI)":60.8},{"fecha":"2015-03-29","Petróleo (WTI)":58.2},
{"fecha":"2015-04-01","Petróleo (WTI)":60.2},{"fecha":"2015-04-05","Petróleo (WTI)":58.8},{"fecha":"2015-04-06","Petróleo (WTI)":64.1},{"fecha":"2015-04-10","Petróleo (WTI)":61.5},{"fecha":"2015-04-13","Petróleo (WTI)":66.8},{"fecha":"2015-04-17","Petróleo (WTI)":67.1},{"fecha":"2015-04-20","Petróleo (WTI)":66.4},{"fecha":"2015-04-23","Petróleo (WTI)":67.4},{"fecha":"2015-04-27","Petróleo (WTI)":70.7},{"fecha":"2015-04-30","Petróleo (WTI)":70.1},
{"fecha":"2015-05-05","Petróleo (WTI)":72.4},{"fecha":"2015-05-10","Petróleo (WTI)":70.7},{"fecha":"2015-05-15","Petróleo (WTI)":71.4},{"fecha":"2015-05-19","Petróleo (WTI)":67.8},{"fecha":"2015-05-22","Petróleo (WTI)":71.1},{"fecha":"2015-05-26","Petróleo (WTI)":68.4},{"fecha":"2015-05-29","Petróleo (WTI)":70.1},
{"fecha":"2015-06-02","Petróleo (WTI)":72.7},{"fecha":"2015-06-05","Petróleo (WTI)":69.1},{"fecha":"2015-06-10","Petróleo (WTI)":73},{"fecha":"2015-06-15","Petróleo (WTI)":71.1},{"fecha":"2015-06-20","Petróleo (WTI)":72},{"fecha":"2015-06-25","Petróleo (WTI)":71.7},{"fecha":"2015-06-30","Petróleo (WTI)":70.4},
{"fecha":"2015-07-04","Petróleo (WTI)":68.1},{"fecha":"2015-07-07","Petróleo (WTI)":62.1},{"fecha":"2015-07-10","Petróleo (WTI)":61.8},{"fecha":"2015-07-14","Petróleo (WTI)":62.8},{"fecha":"2015-07-17","Petróleo (WTI)":60.8},{"fecha":"2015-07-21","Petróleo (WTI)":59.2},{"fecha":"2015-07-24","Petróleo (WTI)":57.5},{"fecha":"2015-07-28","Petróleo (WTI)":57.9},{"fecha":"2015-07-31","Petróleo (WTI)":56.2},
{"fecha":"2015-08-05","Petróleo (WTI)":54.9},{"fecha":"2015-08-09","Petróleo (WTI)":53.2},{"fecha":"2015-08-12","Petróleo (WTI)":52.6},{"fecha":"2015-08-17","Petróleo (WTI)":50.6},{"fecha":"2015-08-20","Petróleo (WTI)":48.3},{"fecha":"2015-08-24","Petróleo (WTI)":45.3},{"fecha":"2015-08-27","Petróleo (WTI)":53.6},{"fecha":"2015-08-31","Petróleo (WTI)":58.2},
{"fecha":"2015-09-03","Petróleo (WTI)":56.2},{"fecha":"2015-09-06","Petróleo (WTI)":55.9},{"fecha":"2015-09-08","Petróleo (WTI)":52.6},{"fecha":"2015-09-12","Petróleo (WTI)":55.5},{"fecha":"2015-09-15","Petróleo (WTI)":53.6},{"fecha":"2015-09-18","Petróleo (WTI)":55.9},{"fecha":"2015-09-22","Petróleo (WTI)":53.6},{"fecha":"2015-09-25","Petróleo (WTI)":54.9},{"fecha":"2015-09-29","Petróleo (WTI)":55.5},
{"fecha":"2015-10-02","Petróleo (WTI)":53.9},{"fecha":"2015-10-05","Petróleo (WTI)":56.2},{"fecha":"2015-10-09","Petróleo (WTI)":58.8},{"fecha":"2015-10-12","Petróleo (WTI)":56.9},{"fecha":"2015-10-16","Petróleo (WTI)":55.9},{"fecha":"2015-10-21","Petróleo (WTI)":55.5},{"fecha":"2015-10-25","Petróleo (WTI)":51.6},{"fecha":"2015-10-26","Petróleo (WTI)":54.2},{"fecha":"2015-10-30","Petróleo (WTI)":56.2},
{"fecha":"2015-11-02","Petróleo (WTI)":56.9},{"fecha":"2015-11-04","Petróleo (WTI)":54.9},{"fecha":"2015-11-07","Petróleo (WTI)":52.3},{"fecha":"2015-11-11","Petróleo (WTI)":52.6},{"fecha":"2015-11-14","Petróleo (WTI)":49.3},{"fecha":"2015-11-19","Petróleo (WTI)":48.3},{"fecha":"2015-11-24","Petróleo (WTI)":47.6},{"fecha":"2015-11-28","Petróleo (WTI)":49.9},
{"fecha":"2015-12-01","Petróleo (WTI)":48.9},{"fecha":"2015-12-04","Petróleo (WTI)":46.3},{"fecha":"2015-12-08","Petróleo (WTI)":45},{"fecha":"2015-12-11","Petróleo (WTI)":43},{"fecha":"2015-12-14","Petróleo (WTI)":44.3},{"fecha":"2015-12-18","Petróleo (WTI)":41.4},{"fecha":"2015-12-21","Petróleo (WTI)":44.6},{"fecha":"2015-12-26","Petróleo (WTI)":44.3},{"fecha":"2015-12-31","Petróleo (WTI)":44},
{"fecha":"2016-01-05","Petróleo (WTI)":40.4},{"fecha":"2016-01-09","Petróleo (WTI)":38.4},{"fecha":"2016-01-12","Petróleo (WTI)":36.7},{"fecha":"2016-01-15","Petróleo (WTI)":35.7},{"fecha":"2016-01-19","Petróleo (WTI)":31.8},{"fecha":"2016-01-22","Petróleo (WTI)":36.4},{"fecha":"2016-01-26","Petróleo (WTI)":37.7},{"fecha":"2016-01-29","Petróleo (WTI)":40},
{"fecha":"2016-02-02","Petróleo (WTI)":37.7},{"fecha":"2016-02-05","Petróleo (WTI)":36.1},{"fecha":"2016-02-08","Petróleo (WTI)":35.7},{"fecha":"2016-02-11","Petróleo (WTI)":31.4},{"fecha":"2016-02-14","Petróleo (WTI)":34.8},{"fecha":"2016-02-17","Petróleo (WTI)":35.7},{"fecha":"2016-02-22","Petróleo (WTI)":37.1},{"fecha":"2016-02-27","Petróleo (WTI)":40},
{"fecha":"2016-03-03","Petróleo (WTI)":43.7},{"fecha":"2016-03-08","Petróleo (WTI)":45},{"fecha":"2016-03-12","Petróleo (WTI)":43.7},{"fecha":"2016-03-15","Petróleo (WTI)":47.6},{"fecha":"2016-03-19","Petróleo (WTI)":47.3},{"fecha":"2016-03-22","Petróleo (WTI)":45.6},{"fecha":"2016-03-27","Petróleo (WTI)":46.6},{"fecha":"2016-03-31","Petróleo (WTI)":45.6},
{"fecha":"2016-04-03","Petróleo (WTI)":42.7},{"fecha":"2016-04-06","Petróleo (WTI)":45.6},{"fecha":"2016-04-10","Petróleo (WTI)":49.9},{"fecha":"2016-04-13","Petróleo (WTI)":48.6},{"fecha":"2016-04-16","Petróleo (WTI)":47.6},{"fecha":"2016-04-20","Petróleo (WTI)":50.6},{"fecha":"2016-04-23","Petróleo (WTI)":50.3},{"fecha":"2016-04-27","Petróleo (WTI)":56.2},{"fecha":"2016-04-30","Petróleo (WTI)":55.2},
{"fecha":"2016-05-03","Petróleo (WTI)":53.9},{"fecha":"2016-05-07","Petróleo (WTI)":51.9},{"fecha":"2016-05-10","Petróleo (WTI)":55.5},{"fecha":"2016-05-15","Petróleo (WTI)":57.5},{"fecha":"2016-05-20","Petróleo (WTI)":58.5},{"fecha":"2016-05-25","Petróleo (WTI)":60.2},{"fecha":"2016-05-30","Petróleo (WTI)":60.2},
{"fecha":"2016-06-03","Petróleo (WTI)":60.8},{"fecha":"2016-06-08","Petróleo (WTI)":61},{"fecha":"2016-06-12","Petróleo (WTI)":58.1},{"fecha":"2016-06-16","Petróleo (WTI)":55.9},{"fecha":"2016-06-18","Petróleo (WTI)":58.3},{"fecha":"2016-06-22","Petróleo (WTI)":57.8},{"fecha":"2016-06-26","Petróleo (WTI)":56.4},{"fecha":"2016-06-29","Petróleo (WTI)":59.3},
{"fecha":"2016-07-02","Petróleo (WTI)":55.9},{"fecha":"2016-07-06","Petróleo (WTI)":54.9},{"fecha":"2016-07-10","Petróleo (WTI)":55.6},{"fecha":"2016-07-14","Petróleo (WTI)":53.9},{"fecha":"2016-07-18","Petróleo (WTI)":52.9},{"fecha":"2016-07-22","Petróleo (WTI)":51.7},{"fecha":"2016-07-26","Petróleo (WTI)":50.9},{"fecha":"2016-07-31","Petróleo (WTI)":49},
{"fecha":"2016-08-02","Petróleo (WTI)":47},{"fecha":"2016-08-06","Petróleo (WTI)":50},{"fecha":"2016-08-10","Petróleo (WTI)":51.4},{"fecha":"2016-08-14","Petróleo (WTI)":54.4},{"fecha":"2016-08-18","Petróleo (WTI)":57.3},{"fecha":"2016-08-22","Petróleo (WTI)":56.8},{"fecha":"2016-08-26","Petróleo (WTI)":55.6},{"fecha":"2016-08-31","Petróleo (WTI)":52.9},
{"fecha":"2016-09-01","Petróleo (WTI)":51.4},{"fecha":"2016-09-03","Petróleo (WTI)":52.9},{"fecha":"2016-09-05","Petróleo (WTI)":53}
]},
"transform": [
  {"fold": ["Carbón", "Café", "Oro", "Petróleo (WTI)"], "as": ["serie", "valor"]},
  {"filter": {"field": "valor", "valid": true}}
],
"mark": {"type": "line", "strokeWidth": 4.5, "strokeJoin": "round", "strokeCap": "round"},
"encoding": {
  "x": {"field": "fecha", "type": "temporal",
    "scale": {"type": "utc", "domain": [{"year": 2012, "month": 8, "date": 1, "utc": true}, {"year": 2016, "month": 9, "date": 5, "utc": true}]},
    "axis": {"title": null, "grid": false,
      "values": [{"year": 2012, "month": 8, "date": 1, "utc": true}, {"year": 2013, "month": 2, "date": 1, "utc": true}, {"year": 2013, "month": 8, "date": 1, "utc": true}, {"year": 2014, "month": 2, "date": 1, "utc": true}, {"year": 2014, "month": 8, "date": 1, "utc": true}, {"year": 2015, "month": 2, "date": 1, "utc": true}, {"year": 2015, "month": 8, "date": 1, "utc": true}, {"year": 2016, "month": 2, "date": 1, "utc": true}, {"year": 2016, "month": 8, "date": 1, "utc": true}],
      "labelExpr": "(utcmonth(datum.value) == 1 ? 'feb-' : 'ago-') + utcFormat(datum.value, '%y')",
      "labelFont": "Liberation Serif", "labelFontWeight": "bold", "labelFontSize": 41, "labelColor": "#000000",
      "labelPadding": 20, "tickSize": 13, "tickColor": "#8a8a8a", "tickWidth": 1.5, "domainColor": "#8a8a8a", "domainWidth": 1.5, "labelFlush": false, "labelOverlap": false}},
  "y": {"field": "valor", "type": "quantitative",
    "scale": {"domain": [30, 140], "nice": false, "zero": false},
    "axis": {"title": null, "grid": false, "values": [30, 50, 70, 90, 110, 130],
      "labelFont": "Liberation Serif", "labelFontWeight": "bold", "labelFontSize": 41, "labelColor": "#000000",
      "labelPadding": 28, "tickSize": 13, "tickColor": "#8a8a8a", "tickWidth": 1.5, "domainColor": "#8a8a8a", "domainWidth": 1.5}},
  "color": {"field": "serie", "type": "nominal",
    "scale": {"domain": ["Carbón", "Café", "Oro", "Petróleo (WTI)"], "range": ["#ff0000", "#70ad30", "#a50021", "#0070c0"]},
    "legend": {"title": null}},
  "strokeDash": {"field": "serie", "type": "nominal",
    "scale": {"domain": ["Carbón", "Café", "Oro", "Petróleo (WTI)"], "range": [[1, 0], [1, 0], [14, 16], [1, 0]]},
    "legend": {"title": null}}
}
}
